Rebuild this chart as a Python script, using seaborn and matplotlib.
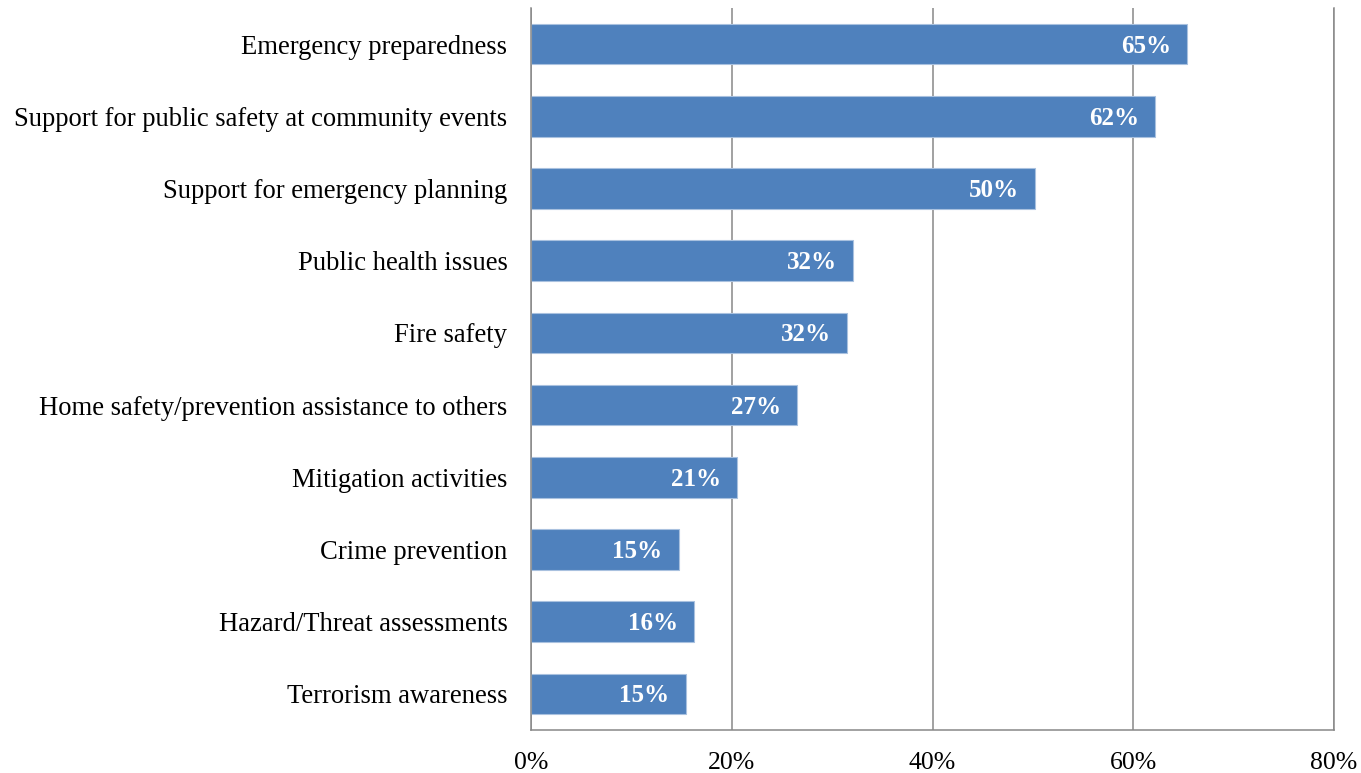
import matplotlib
matplotlib.use("Agg")
import matplotlib.pyplot as plt
import seaborn as sns
import pandas as pd

# Share of respondents reporting each activity (percent)
activities = [
    "Emergency preparedness",
    "Support for public safety at community events",
    "Support for emergency planning",
    "Public health issues",
    "Fire safety",
    "Home safety/prevention assistance to others",
    "Mitigation activities",
    "Crime prevention",
    "Hazard/Threat assessments",
    "Terrorism awareness",
]
shares = [65.4, 62.2, 50.2, 32.1, 31.5, 26.5, 20.5, 14.7, 16.2, 15.4]
x_ticks = [0, 20, 40, 60, 80]
x_tick_labels = ["0%", "20%", "40%", "60%", "80%"]

df = pd.DataFrame({"activity": activities, "share": shares})

sns.set_theme(style="white")
plt.rcParams["font.family"] = ["Liberation Serif", "DejaVu Serif"]

BAR = "#4F81BD"
GRID = "#888888"

fig = plt.figure(figsize=(13.61, 7.73), dpi=100)
ax = fig.add_axes([531 / 1361, 1 - 730 / 773, (1334 - 531) / 1361, (730 - 8) / 773])

sns.barplot(data=df, x="share", y="activity", orient="h", color=BAR,
            saturation=1, width=0.56, edgecolor="#A9C1DF", linewidth=0.8, ax=ax)

ax.set_xlim(0, 80)
ax.set_ylim(len(activities) - 0.5, -0.5)
ax.set_xticks(x_ticks)
ax.set_xticklabels(x_tick_labels)
ax.set_xlabel("")
ax.set_ylabel("")

ax.xaxis.grid(True, color=GRID, linewidth=1.1)
ax.set_axisbelow(True)
for side in ["left", "bottom", "right"]:
    ax.spines[side].set_visible(True)
    ax.spines[side].set_color(GRID)
    ax.spines[side].set_linewidth(1.1)
ax.spines["top"].set_visible(False)

ax.tick_params(axis="y", length=0, pad=17, labelsize=19.2, colors="black")
ax.tick_params(axis="x", length=0, pad=16, labelsize=18.5, colors="black")

# Percent labels inside the bar ends, rounded half up
for i, v in enumerate(shares):
    ax.annotate(f"{int(v + 0.5)}%", xy=(v, i), xytext=(-11.5, -1.5),
                textcoords="offset points", ha="right", va="center",
                color="white", fontweight="bold", fontsize=18)

fig.savefig("out.png", dpi=100)
